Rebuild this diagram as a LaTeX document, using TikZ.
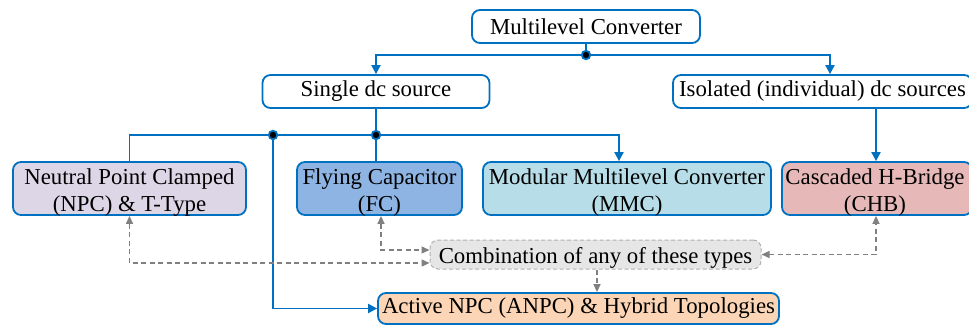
\documentclass[tikz,border=0pt]{standalone}
\usepackage{fontspec}
\setmainfont{Liberation Serif}
\usetikzlibrary{arrows.meta}
\definecolor{lnblue}{HTML}{0070C0}
\definecolor{npcfill}{HTML}{DCD6E6}
\definecolor{fcfill}{HTML}{8EB4E3}
\definecolor{mmcfill}{HTML}{B7DEE8}
\definecolor{chbfill}{HTML}{E6B9B8}
\definecolor{actfill}{HTML}{FBD5B5}
\definecolor{combfill}{HTML}{E6E6E6}
\definecolor{combline}{HTML}{B0B0B0}
\definecolor{dgray}{HTML}{808080}
\begin{document}
\begin{tikzpicture}[x=1pt,y=-1pt,
  every node/.style={font=\fontsize{22.8pt}{27pt}\selectfont, inner sep=0pt},
  box/.style={draw=lnblue, line width=1.8pt, rounded corners=8pt, minimum height=33pt},
  tallbox/.style={box, minimum height=53pt},
  conn/.style={draw=lnblue, line width=1.9pt},
  arr/.style={conn, -{Triangle[length=9pt,width=9pt]}},
  dsh/.style={draw=dgray, line width=1.4pt, dash pattern=on 5pt off 3.5pt,
    {Triangle[length=8pt,width=7pt]}-{Triangle[length=8pt,width=7pt]}},
  dsharr/.style={draw=dgray, line width=1.4pt, dash pattern=on 5pt off 3.5pt,
    -{Triangle[length=8pt,width=7pt]}},
  jdot/.style={circle, fill=black, draw=lnblue, line width=1.8pt, minimum size=8.5pt}
]
\useasboundingbox (0,0) rectangle (969,325);
\clip (0,0) rectangle (969,325);

% boxes
\node[box, minimum width=228pt] (mc) at (586,26.5) {Multilevel Converter};
\node[box, minimum width=227pt] (sdc) at (376,91.5) {Single dc source};
\node[box, minimum width=299pt] (iso) at (822.5,91.5) {Isolated (individual) dc sources};

\node[tallbox, minimum width=233pt, fill=npcfill] (npc) at (129.5,188.5) {};
\node[align=center] (npct) at (129.5,193) {Neutral Point Clamped\\(NPC) \& T-Type};
\node[tallbox, minimum width=165pt, fill=fcfill] (fc) at (379.5,188.5) {};
\node[align=center] (fct) at (379.5,193) {Flying Capacitor\\(FC)};
\node[tallbox, minimum width=288pt, fill=mmcfill] (mmc) at (627,188.5) {};
\node[align=center] (mmct) at (627,193) {Modular Multilevel Converter\\(MMC)};
\node[tallbox, minimum width=190pt, fill=chbfill] (chb) at (877,188.5) {};
\node[align=center] (chbt) at (875,193) {Cascaded H-Bridge\\(CHB)};

\node[draw=combline, line width=1pt, dash pattern=on 4pt off 2.5pt, rounded corners=8pt,
  fill=combfill, minimum width=331pt, minimum height=29pt, text height=19pt, text depth=2pt]
  (comb) at (595.5,254.5) {Combination of any of these types};
\node[box, minimum width=401pt, minimum height=31pt, fill=actfill] (act) at (578.5,308.5)
  {Active NPC (ANPC) \& Hybrid Topologies};

% blue connectors
\coordinate (j0) at (586,55);
\coordinate (j1) at (376,135);
\coordinate (j2) at (273,135);
\draw[conn] (mc.south) -- (j0);
\draw[arr] (j0) -| (sdc.north);
\draw[arr] (j0) -| ([xshift=7.5pt]iso.north);
\draw[conn] (sdc.south) -- (j1);
\draw[conn] (npc.north) |- (j1);
\draw[arr] (j1) -| ([xshift=-8pt]mmc.north);
\draw[conn] (j1) -- (j1 |- fc.north);
\draw[arr] (j2) |- (act.west);
\draw[arr] ([xshift=-1pt]chb.north |- iso.south) -- ([xshift=-1pt]chb.north);

% dashed grey connectors
\draw[dsh] (npc.south) |- ([yshift=-8.5pt]comb.west);
\draw[dsh] ([xshift=1.5pt]fc.south) |- ([yshift=4.5pt]comb.west);
\draw[dsh] (comb.east) -| ([xshift=-1pt]chb.south);
\draw[dsharr] ([xshift=1.5pt]comb.south) -- ([xshift=1.5pt]comb.south |- act.north);

% junction dots
\node[jdot] (d0) at (j0) {};
\node[jdot] (d1) at (j1) {};
\node[jdot] (d2) at (j2) {};
\end{tikzpicture}
\end{document}
